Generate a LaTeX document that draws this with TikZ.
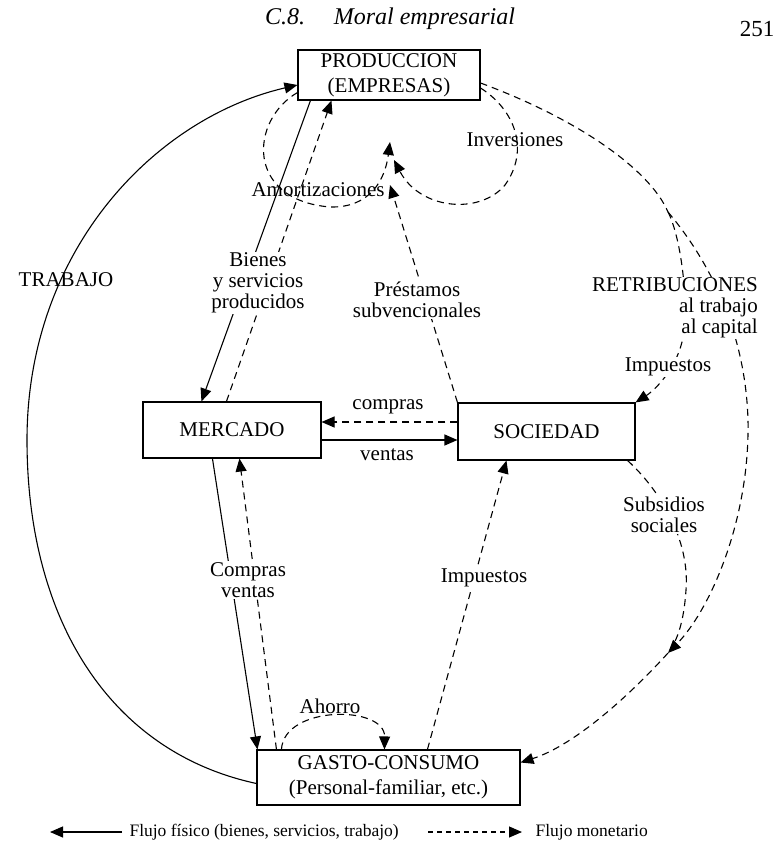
\documentclass[tikz,border=0pt]{standalone}
\usepackage{fontspec}
\setmainfont{Liberation Serif}
\usetikzlibrary{arrows.meta}

\begin{document}
\begin{tikzpicture}[x=1pt,y=-1pt,
	box/.style={draw,line width=1.1pt,align=center,inner sep=0pt,font=\fontsize{21}{25}\selectfont},
	flow/.style={line width=1.1pt,-{Triangle[length=13pt,width=11pt]}},
	money/.style={flow,dash pattern=on 7pt off 5pt},
	lbl/.style={fill=white,inner sep=1pt,align=center,font=\fontsize{21}{21}\selectfont},
	tag/.style={lbl,fill=none}]
	\useasboundingbox (0,0) rectangle (779,856);
	\node[font=\itshape\fontsize{24}{24}\selectfont] (head) at (390,19) {C.8.\hspace{1.2em}Moral empresarial};
	\node[font=\fontsize{23}{23}\selectfont] (page) at (757,29) {251};
	% the four sectors
	\node[box,minimum width=182pt,minimum height=50pt] (prod) at (389,75) {PRODUCCION\\(EMPRESAS)};
	\node[box,minimum width=178pt,minimum height=56pt] (merc) at (232,430) {MERCADO};
	\node[box,minimum width=177pt,minimum height=57pt] (soc) at (546.5,431.5) {SOCIEDAD};
	\node[box,minimum width=263pt,minimum height=55pt] (gasto) at (388.5,777.5) {GASTO-CONSUMO\\(Personal-familiar, etc.)};
	\coordinate (amo) at (390,142);
	\coordinate (inve) at (394,160);
	\coordinate (pre) at (390,185);
	\coordinate (split) at (668,212);
	\coordinate (conv) at (668,653);
	% physical flows
	\draw[flow] ([yshift=-6pt]gasto.west) .. controls (110,752) and (27,620) .. (27,440)
		.. controls (27,250) and (155,118) .. ([yshift=-10pt]prod.west);
	\draw[flow] ([xshift=13pt]prod.south west) -- ([xshift=59pt]merc.north west);
	\draw[flow] ([yshift=-10pt]merc.east) -- ([yshift=-8.5pt]soc.west);
	\draw[flow] ([xshift=70pt]merc.south west) -- ([xshift=1pt]gasto.north west);
	% money flows
	\draw[money] ([xshift=84pt]merc.north west) -- ([xshift=34pt]prod.south west);
	\draw[money] ([yshift=8pt]prod.south west) .. controls (250,120) and (245,200) .. (330,207)
		.. controls (370,208) and (385,180) .. (amo);
	\draw[money] ([yshift=-13pt]prod.east) .. controls (515,110) and (530,150) .. (505,185)
		.. controls (480,215) and (420,210) .. (inve);
	\draw[money] (soc.north west) -- (pre);
	\draw[money,-] ([yshift=-8pt]prod.east) .. controls (580,120) and (650,170) .. (split);
	\draw[money] (split) .. controls (680,235) and (690,300) .. (682,342)
		.. controls (675,370) and (655,390) .. (soc.north east);
	\draw[money] (split) .. controls (700,250) and (745,320) .. (748,420)
		.. controls (750,520) and (710,610) .. (conv);
	\draw[money,-] ([xshift=-8pt]soc.south east) .. controls (660,490) and (690,540) .. (686,590)
		.. controls (684,620) and (678,640) .. (conv);
	\draw[money] (conv) .. controls (630,695) and (575,745) .. ([yshift=15pt]gasto.east);
	\draw[money] ([yshift=9.5pt]soc.west) -- ([yshift=8pt]merc.east);
	\draw[money] ([xshift=20pt]gasto.north west) -- ([xshift=97pt]merc.south west);
	\draw[money] ([xshift=25pt]gasto.north west) .. controls (284,705) and (385,705) .. ([xshift=128pt]gasto.north west);
	\draw[money] ([xshift=171pt]gasto.north west) -- ([xshift=49pt]soc.south west);
	% labels
	\node[tag] (trab) at (66,280) {TRABAJO};
	\node[lbl] (bien) at (258,283) {Bienes\\y servicios\\producidos};
	\node[tag] (amor) at (318,190) {Amortizaciones};
	\node[tag] (inv) at (515,140) {Inversiones};
	\node[lbl] (pres) at (417,300) {Préstamos\\subvencionales};
	\node[lbl,align=right,anchor=east] (retr) at (759,308) {RETRIBUCIONES\\al trabajo\\al capital};
	\node[lbl] (imp1) at (668,367) {Impuestos};
	\node[tag] (comp) at (388,407) {compras};
	\node[tag] (vent) at (387,455) {ventas};
	\node[lbl] (cv) at (248,580) {Compras\\ventas};
	\node[lbl] (imp2) at (484,578) {Impuestos};
	\node[lbl] (subs) at (664,515) {Subsidios\\sociales};
	\node[tag] (aho) at (330,706) {Ahorro};
	% legend
	\coordinate (fisA) at (122,832);
	\coordinate (fisB) at (50,832);
	\coordinate (monA) at (428,832);
	\coordinate (monB) at (522,832);
	\draw[flow] (fisA) -- (fisB);
	\draw[money,dash pattern=on 5pt off 4pt] (monA) -- (monB);
	\node[anchor=west,font=\fontsize{17.5}{17.5}\selectfont] (fis) at (126,832) {Flujo físico (bienes, servicios, trabajo)};
	\node[anchor=west,font=\fontsize{17.5}{17.5}\selectfont] (mon) at (532,832) {Flujo monetario};
\end{tikzpicture}
\end{document}
